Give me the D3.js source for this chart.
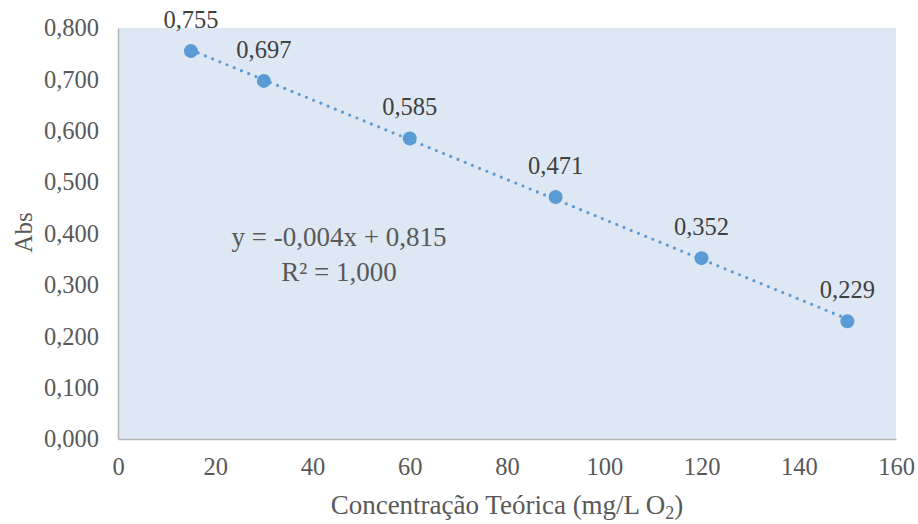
<!DOCTYPE html>
<html>
<head>
<meta charset="utf-8">
<script src="https://cdn.jsdelivr.net/npm/d3@7"></script>
<style>
  html, body { margin: 0; padding: 0; background: #ffffff; }
  svg { display: block; }
</style>
</head>
<body>
<svg id="chart" width="918" height="524"></svg>
<script>
// Calibration data: theoretical concentration vs absorbance
const concentrations = [15, 30, 60, 90, 120, 150];
const absorbances = [0.755, 0.697, 0.585, 0.471, 0.352, 0.229];
const xTicks = [0, 20, 40, 60, 80, 100, 120, 140, 160];
const yTicks = [0, 0.1, 0.2, 0.3, 0.4, 0.5, 0.6, 0.7, 0.8];

const W = 918, H = 524;
const margin = { top: 28, right: 22, bottom: 85, left: 118 };
const iw = W - margin.left - margin.right;
const ih = H - margin.top - margin.bottom;
const FONT = "'Liberation Serif', 'Times New Roman', serif";

const fmt3 = v => d3.format(".3f")(v).replace(".", ",");

const svg = d3.select("#chart").attr("font-family", FONT);
const g = svg.append("g").attr("transform", `translate(${margin.left},${margin.top})`);

const x = d3.scaleLinear().domain([0, 160]).range([0, iw]);
const y = d3.scaleLinear().domain([0, 0.8]).range([ih, 0]);

// plot area background
g.append("rect").attr("width", iw).attr("height", ih).attr("fill", "#dee8f4");

// axes
const xAxis = g.append("g").attr("transform", `translate(0,${ih})`)
  .call(d3.axisBottom(x).tickValues(xTicks).tickSize(0).tickPadding(19).tickFormat(d3.format("d")));
const yAxis = g.append("g")
  .call(d3.axisLeft(y).tickValues(yTicks).tickSize(0).tickPadding(19).tickFormat(fmt3));
[xAxis, yAxis].forEach(a => {
  a.attr("font-family", FONT).attr("font-size", 24.5);
  a.select(".domain").attr("stroke", "#b4b4b4").attr("stroke-width", 1.5);
  a.selectAll("text").attr("fill", "#595959").attr("font-family", FONT).attr("font-size", 24.5);
});

// least-squares trendline
const n = concentrations.length;
const mx = d3.mean(concentrations), my = d3.mean(absorbances);
let sxy = 0, sxx = 0, syy = 0;
for (let i = 0; i < n; i++) {
  sxy += (concentrations[i] - mx) * (absorbances[i] - my);
  sxx += (concentrations[i] - mx) ** 2;
  syy += (absorbances[i] - my) ** 2;
}
const slope = sxy / sxx;
const intercept = my - slope * mx;
const r2 = (sxy * sxy) / (sxx * syy);

const x0 = d3.min(concentrations), x1 = d3.max(concentrations);
g.append("line")
  .attr("x1", x(x0)).attr("y1", y(slope * x0 + intercept))
  .attr("x2", x(x1)).attr("y2", y(slope * x1 + intercept))
  .attr("stroke", "#5b9bd5").attr("stroke-width", 3.2)
  .attr("stroke-linecap", "round").attr("stroke-dasharray", "0 7.8");

// points
const pts = concentrations.map((c, i) => ({ c, a: absorbances[i] }));
g.selectAll("circle.pt").data(pts).join("circle")
  .attr("class", "pt")
  .attr("cx", d => x(d.c)).attr("cy", d => y(d.a)).attr("r", 7)
  .attr("fill", "#5b9bd5");

// data labels
g.selectAll("text.lbl").data(pts).join("text")
  .attr("class", "lbl")
  .attr("x", d => x(d.c)).attr("y", d => y(d.a) - 23)
  .attr("text-anchor", "middle").attr("font-family", FONT).attr("font-size", 24.5).attr("fill", "#404040")
  .text(d => fmt3(d.a));

// equation and R²
const sign = slope < 0 ? "-" : "";
const eq = g.append("text").attr("text-anchor", "middle").attr("fill", "#595959")
  .attr("font-family", FONT).attr("font-size", 27);
eq.append("tspan").attr("x", 339 - margin.left).attr("y", 246 - margin.top)
  .text(`y = ${sign}${fmt3(Math.abs(slope))}x + ${fmt3(intercept)}`);
eq.append("tspan").attr("x", 339 - margin.left).attr("y", 281 - margin.top)
  .text(`R² = ${fmt3(r2)}`);

// axis titles
const xt = svg.append("text").attr("text-anchor", "middle").attr("fill", "#595959")
  .attr("font-family", FONT).attr("font-size", 27)
  .attr("x", margin.left + iw / 2).attr("y", 514);
xt.append("tspan").text("Concentração Teórica (mg/L O");
xt.append("tspan").attr("font-size", 18).attr("dy", 5).text("2");
xt.append("tspan").attr("dy", -5).text(")");

svg.append("text").attr("text-anchor", "middle").attr("fill", "#595959")
  .attr("font-family", FONT).attr("font-size", 25)
  .attr("transform", `translate(32,${margin.top + ih / 2 - 1}) rotate(-90)`)
  .text("Abs");
</script>
</body>
</html>
